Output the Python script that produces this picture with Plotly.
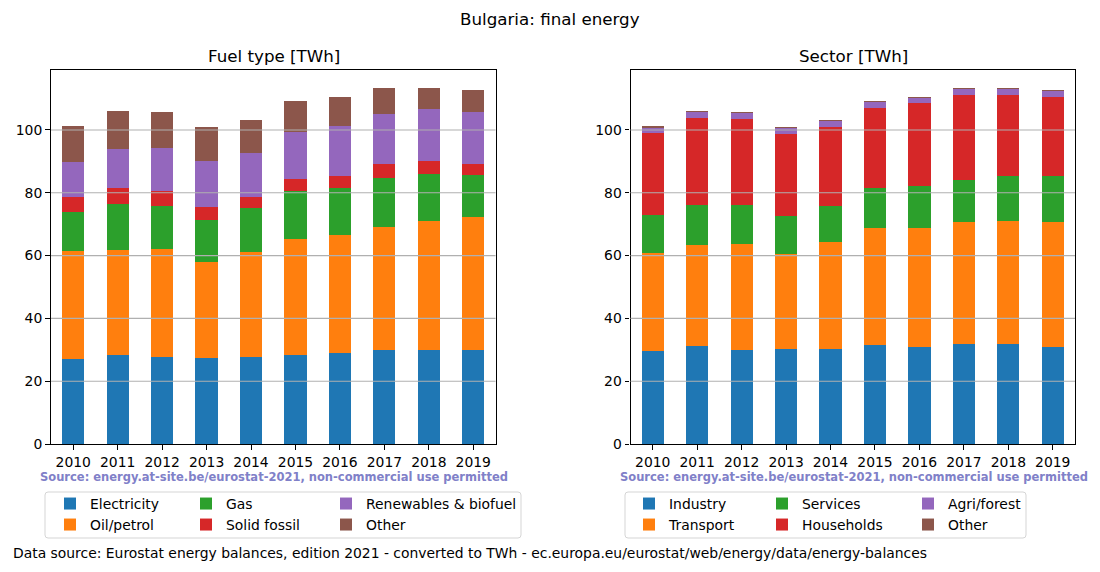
import plotly.graph_objects as go
from plotly.subplots import make_subplots

years = ["2010", "2011", "2012", "2013", "2014", "2015", "2016", "2017", "2018", "2019"]

fuel_names = ["Electricity", "Oil/petrol", "Gas", "Solid fossil", "Renewables & biofuel", "Other"]
fuel_electricity = [27.0, 28.3, 27.7, 27.4, 27.7, 28.3, 29.0, 29.9, 29.9, 29.9]
fuel_oil = [34.4, 33.4, 34.3, 30.5, 33.4, 36.9, 37.5, 39.1, 41.0, 42.3]
fuel_gas = [12.4, 14.8, 13.7, 13.4, 14.0, 15.3, 14.9, 15.6, 15.0, 13.4]
fuel_solid = [4.8, 4.9, 4.8, 4.1, 3.5, 3.8, 3.9, 4.5, 4.1, 3.5]
fuel_renew = [11.1, 12.4, 13.7, 14.6, 14.0, 15.0, 15.9, 15.9, 16.6, 16.5]
fuel_other = [11.5, 12.1, 11.4, 10.8, 10.5, 9.8, 9.2, 8.3, 6.7, 7.0]

sector_names = ["Industry", "Transport", "Services", "Households", "Agri/forest", "Other"]
sec_industry = [29.6, 31.2, 29.9, 30.2, 30.2, 31.5, 30.9, 31.8, 31.8, 30.9]
sec_transport = [31.2, 32.1, 33.7, 30.2, 34.1, 37.2, 37.8, 38.8, 39.1, 39.7]
sec_services = [12.1, 12.7, 12.4, 12.1, 11.4, 12.7, 13.4, 13.4, 14.4, 14.7]
sec_households = [26.0, 27.7, 27.4, 26.1, 25.1, 25.5, 26.4, 27.0, 25.7, 25.1]
sec_agri = [1.9, 2.2, 2.2, 2.2, 2.3, 2.2, 1.9, 2.3, 2.3, 2.2]
sec_other = [0.4, 0.05, 0.05, 0.05, 0.05, 0.05, 0.05, 0.05, 0.05, 0.05]

colors = ["#1f77b4", "#ff7f0e", "#2ca02c", "#d62728", "#9467bd", "#8c564b"]
yticks = [0, 20, 40, 60, 80, 100]

FONT = "DejaVu Sans"
W, H = 1100, 572
ML, MR, MT, MB = 51, 25, 70, 128
PW, PH = W - ML - MR, H - MT - MB


def px(x):
    return (x - ML) / PW


def py(y):
    return (H - MB - y) / PH


fig = make_subplots(rows=1, cols=2, horizontal_spacing=(631 - 496) / PW)

fuel_series = [fuel_electricity, fuel_oil, fuel_gas, fuel_solid, fuel_renew, fuel_other]
sec_series = [sec_industry, sec_transport, sec_services, sec_households, sec_agri, sec_other]

# legend positions (column-major like matplotlib, ncol=3)
left_text_x = [90, 226, 366]
right_text_x = [669, 802, 948]
row_y = [504, 525]

legend_layouts = {}
li = 0
for col, (names, series, text_x) in enumerate([(fuel_names, fuel_series, left_text_x),
                                              (sector_names, sec_series, right_text_x)]):
    for i, (name, vals) in enumerate(zip(names, series)):
        li += 1
        lname = "legend" if li == 1 else f"legend{li}"
        c, r = divmod(i, 2)
        fig.add_trace(go.Bar(x=years, y=vals, name=name, width=0.5,
                             marker=dict(color=colors[i], line=dict(width=0)),
                             legend=lname, showlegend=True), row=1, col=col + 1)
        legend_layouts[lname] = dict(
            x=px(text_x[c] - 40), y=py(row_y[r]), xanchor="left", yanchor="middle",
            bgcolor="rgba(0,0,0,0)", borderwidth=0, visible=True,
            font=dict(family=FONT, size=13.9, color="black"),
            itemclick=False, itemdoubleclick=False)

fig.update_layout(barmode="stack", showlegend=True, **legend_layouts)

axis_common = dict(showline=True, linecolor="black", linewidth=1.1, mirror=True,
                   ticks="outside", ticklen=4.9, tickwidth=1.1, tickcolor="black",
                   tickfont=dict(family=FONT, size=13.9, color="black"),
                   showgrid=False, zeroline=False)

for c in (1, 2):
    fig.update_xaxes(axis_common, range=[-0.5, 9.5], type="category", row=1, col=c)
    fig.update_yaxes(axis_common, range=[0, 119.1], tickvals=yticks, row=1, col=c)

# gridlines above bars (matplotlib style)
shapes = []
for xr, yr in (("x domain", "y"), ("x2 domain", "y2")):
    for t in yticks[1:]:
        shapes.append(dict(type="line", xref=xr, yref=yr, x0=0, x1=1, y0=t, y1=t,
                           line=dict(color="#b0b0b0", width=1.1), layer="above"))


def rounded_box(x0, y0, x1, y1, r=3):
    X0, X1 = px(x0), px(x1)
    Y0, Y1 = py(y0), py(y1)
    rx, ry = r / PW, r / PH
    p = (f"M{X0+rx},{Y0} L{X1-rx},{Y0} Q{X1},{Y0} {X1},{Y0-ry} "
         f"L{X1},{Y1+ry} Q{X1},{Y1} {X1-rx},{Y1} L{X0+rx},{Y1} "
         f"Q{X0},{Y1} {X0},{Y1+ry} L{X0},{Y0-ry} Q{X0},{Y0} {X0+rx},{Y0} Z")
    return dict(type="path", xref="paper", yref="paper", path=p,
                line=dict(color="#d5d5d5", width=1), fillcolor="rgba(255,255,255,0.8)",
                layer="below")


shapes.append(rounded_box(45, 492, 521, 538))
shapes.append(rounded_box(625, 492, 1026, 538))
fig.update_layout(shapes=shapes)

annotations = [
    dict(text="Bulgaria: final energy", x=px(550), y=py(19), xref="paper", yref="paper",
         xanchor="center", yanchor="middle", showarrow=False,
         font=dict(family=FONT, size=16.7, color="black")),
    dict(text="Fuel type [TWh]", x=px(273.5), y=py(56), xref="paper", yref="paper",
         xanchor="center", yanchor="middle", showarrow=False,
         font=dict(family=FONT, size=16.7, color="black")),
    dict(text="Sector [TWh]", x=px(853), y=py(56), xref="paper", yref="paper",
         xanchor="center", yanchor="middle", showarrow=False,
         font=dict(family=FONT, size=16.7, color="black")),
    dict(text="<b>Source: energy.at-site.be/eurostat-2021, non-commercial use permitted</b>",
         x=px(273.5), y=py(477), xref="paper", yref="paper",
         xanchor="center", yanchor="middle", showarrow=False,
         font=dict(family=FONT, size=11.5, color="#8080c8")),
    dict(text="<b>Source: energy.at-site.be/eurostat-2021, non-commercial use permitted</b>",
         x=px(853.5), y=py(477), xref="paper", yref="paper",
         xanchor="center", yanchor="middle", showarrow=False,
         font=dict(family=FONT, size=11.5, color="#8080c8")),
    dict(text="Data source: Eurostat energy balances, edition 2021 - converted to TWh - "
              "ec.europa.eu/eurostat/web/energy/data/energy-balances",
         x=px(11), y=py(553), xref="paper", yref="paper",
         xanchor="left", yanchor="middle", showarrow=False,
         font=dict(family=FONT, size=13.9, color="black")),
]
fig.update_layout(annotations=annotations)

fig.update_layout(width=W, height=H, margin=dict(l=ML, r=MR, t=MT, b=MB, pad=0),
                  paper_bgcolor="white", plot_bgcolor="white",
                  font=dict(family=FONT, color="black"))

fig.write_html("out.html")
